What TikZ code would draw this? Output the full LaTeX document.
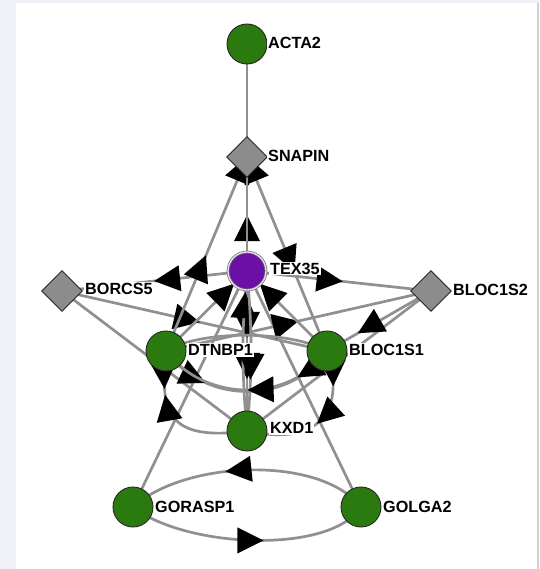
\documentclass[tikz,border=0pt]{standalone}
\usepackage{fontspec}
\setmainfont{Liberation Sans}
\usetikzlibrary{arrows.meta,decorations.markings,shapes.geometric}

\definecolor{genegreen}{HTML}{2A7A10}
\definecolor{hubpurple}{HTML}{6A10A6}
\definecolor{complexgrey}{HTML}{8C8C8C}
\definecolor{linkgrey}{HTML}{909090}
\definecolor{framebg}{HTML}{EEF1F6}

\pgfdeclarelayer{panel}
\pgfdeclarelayer{links}
\pgfsetlayers{panel,links,main}

\tikzset{bigtri/.tip={Triangle[length=22pt,width=22pt,color=black,fill=black]}}

\begin{document}
\begin{tikzpicture}[x=1pt,y=-1pt,
  gene/.style={circle, draw=black!85, line width=0.9pt, fill=genegreen,
    minimum size=40pt, inner sep=0pt},
  hub/.style={circle, draw=black!55, line width=0.7pt, double=white!85!hubpurple,
    double distance=1.3pt, fill=hubpurple, minimum size=38pt, inner sep=0pt},
  complex/.style={diamond, aspect=1, draw=black!85, line width=0.9pt,
    fill=complexgrey, minimum size=41pt, inner sep=0pt},
  tag/.style={anchor=west, fill=white, inner sep=1pt,
    font=\fontsize{16.2}{17}\selectfont\bfseries},
  link/.style={draw=linkgrey, line width=2.7pt},
  fw/.style={postaction={decorate, draw=black, line width=0.2pt,
    decoration={markings, mark=at position #1 with {\arrow{bigtri}}}}},
  bw/.style={postaction={decorate, draw=black, line width=0.2pt,
    decoration={markings, mark=at position #1 with {\arrowreversed{bigtri}}}}},
]
% frame and white panel
\begin{pgfonlayer}{panel}
  \fill[framebg] (0,0) rectangle (539,569);
  \fill[white] (16,3) rectangle (537,569);
  \fill[black!18] (537,3) rectangle (539,569);
\end{pgfonlayer}
\useasboundingbox (0,0) rectangle (539,569);

% nodes
\node[gene]    (acta)  at (247,44)  {};
\node[complex] (snap)  at (247,157) {};
\node[hub]     (tex)   at (247,271) {};
\node[complex] (borc)  at (62,291)  {};
\node[complex] (bls2)  at (431,291) {};
\node[gene]    (dtn)   at (166,351) {};
\node[gene]    (bls1)  at (327,351) {};
\node[gene]    (kxd)   at (247,431) {};
\node[gene]    (gor)   at (133,507) {};
\node[gene]    (golg)  at (361,507) {};

% labels
\node[tag] (lacta) at (267,43)    {ACTA2};
\node[tag] (lsnap) at (267,155.5) {SNAPIN};
\node[tag] (ltex)  at (269,268.5) {TEX35};
\node[tag] (lborc) at (84,288.5)  {BORCS5};
\node[tag] (lbls2) at (452,290)   {BLOC1S2};
\node[tag] (ldtn)  at (187,350)   {DTNBP1};
\node[tag] (lbls1) at (348,350)   {BLOC1S1};
\node[tag] (lkxd)  at (269,428)   {KXD1};
\node[tag] (lgor)  at (154,506.5) {GORASP1};
\node[tag] (lgolg) at (382,506.5) {GOLGA2};

% interactions
\begin{pgfonlayer}{links}
  \draw[link] (acta.center) -- (snap.center);
  % long straight links
  \draw[link] (gor.center) -- (tex.center);
  \draw[link] (golg.center) -- (tex.center);
  \draw[link] (borc.center) -- (kxd.center);
  \draw[link] (bls2.center) -- (kxd.center);
  \draw[link, bw=0.49] (bls1.center) -- (borc.center);
  \draw[link, fw=0.49] (dtn.center) -- (bls2.center);
  \draw[link, fw=0.68] (bls2.center) -- (bls1.center);
  \draw[link, fw=0.487] (tex.center) -- (borc.center);
  \draw[link, fw=0.505] (tex.center) -- (bls2.center);
  % links to SNAPIN
  \draw[link, fw=0.465] (tex.center) -- (snap.center);
  \draw[link, fw=0.48, fw=0.99] (dtn.center) -- (snap.center);
  \draw[link, bw=0.01, fw=0.58] (snap.center) -- (bls1.center);
  \draw[link, fw=0.65, fw=0.80] (snap.center) -- (kxd.center);
  % links around TEX35
  \draw[link, fw=0.815] (dtn.center) -- (tex.center);
  \draw[link, fw=0.815] (bls1.center) -- (tex.center);
  \draw[link, fw=0.85] (kxd.center) to[bend left=5] (tex.center);
  \draw[link, fw=0.66] (tex.center) to[bend left=5] (kxd.center);
  % DTNBP1 / BLOC1S1 curves
  \draw[link] (dtn.center) .. controls (200,330) and (290,330) .. (bls1.center);
  \draw[link, fw=0.26] (dtn.center) .. controls (205,405) and (290,405) .. (bls1.center);
  \draw[link, fw=0.2, fw=0.48] (bls1.center) .. controls (290,403) and (205,403) .. (dtn.center);
  % loops to KXD1
  \draw[link, fw=0.68, bw=0.76] (kxd.center) .. controls (165,442) and (160,410) .. (dtn.center);
  \draw[link, fw=0.22, fw=0.5] (bls1.center) .. controls (345,405) and (325,448) .. (kxd.center);
  % GORASP1 / GOLGA2
  \draw[link, fw=0.58] (golg.center) .. controls (320,455) and (185,460) .. (gor.center);
  \draw[link, fw=0.55] (gor.center) .. controls (185,548) and (330,555) .. (golg.center);
\end{pgfonlayer}
\end{tikzpicture}
\end{document}
